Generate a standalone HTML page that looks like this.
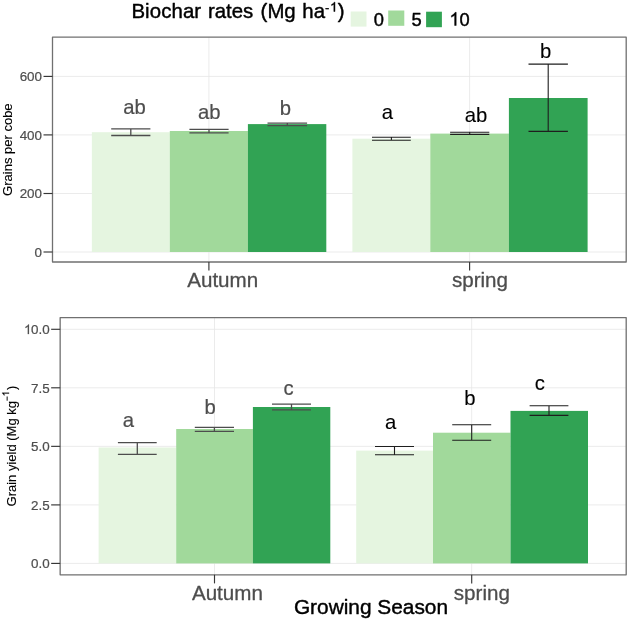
<!DOCTYPE html>
<html><head><meta charset="utf-8"><title>Biochar rates</title>
<style>html,body{margin:0;padding:0;background:#fff;}svg{display:block;will-change:transform;}text{font-family:"Liberation Sans",sans-serif;paint-order:stroke;stroke-linejoin:round;}.k{stroke:#000;stroke-width:0.42px;}.g{stroke:#4d4d4d;stroke-width:0.3px;}.t{stroke:#4d4d4d;stroke-width:0.2px;}</style></head><body>
<svg width="628" height="621" viewBox="0 0 628 621">
<rect x="0" y="0" width="628" height="621" fill="#ffffff"/>
<line x1="52.5" x2="626.2" y1="76.4" y2="76.4" stroke="#e6e6e6" stroke-width="0.8"/>
<line x1="52.5" x2="626.2" y1="134.9" y2="134.9" stroke="#e6e6e6" stroke-width="0.8"/>
<line x1="52.5" x2="626.2" y1="193.5" y2="193.5" stroke="#e6e6e6" stroke-width="0.8"/>
<line x1="52.5" x2="626.2" y1="252.0" y2="252.0" stroke="#e6e6e6" stroke-width="0.8"/>
<line x1="208.9" x2="208.9" y1="37.2" y2="262.0" stroke="#e6e6e6" stroke-width="0.8"/>
<line x1="469.6" x2="469.6" y1="37.2" y2="262.0" stroke="#e6e6e6" stroke-width="0.8"/>
<rect x="91.85" y="132.2" width="77.95" height="119.80" fill="#e5f5e0"/>
<rect x="169.8" y="131.0" width="78.10" height="121.00" fill="#a1d99b"/>
<rect x="247.9" y="124.1" width="78.40" height="127.90" fill="#31a354"/>
<rect x="352.4" y="138.7" width="77.90" height="113.30" fill="#e5f5e0"/>
<rect x="430.3" y="133.6" width="78.60" height="118.40" fill="#a1d99b"/>
<rect x="508.9" y="98.0" width="78.70" height="154.00" fill="#31a354"/>
<path d="M111.20000000000002 128.9H150.4M111.20000000000002 135.5H150.4M130.8 128.9V135.5" stroke="#4d4d4d" stroke-width="1.3" fill="none"/>
<path d="M189.4 129.4H228.6M189.4 132.8H228.6M209.0 129.4V132.8" stroke="#4d4d4d" stroke-width="1.3" fill="none"/>
<path d="M267.5 123.1H307.1M267.5 125.6H307.1M287.3 123.1V125.6" stroke="#4d4d4d" stroke-width="1.3" fill="none"/>
<path d="M372.0 137.2H410.79999999999995M372.0 140.2H410.79999999999995M391.4 137.2V140.2" stroke="#1e1e1e" stroke-width="1.1" fill="none"/>
<path d="M450.09999999999997 132.2H489.3M450.09999999999997 134.4H489.3M469.7 132.2V134.4" stroke="#1e1e1e" stroke-width="1.1" fill="none"/>
<path d="M528.5 64.1H567.9000000000001M528.5 131.4H567.9000000000001M548.2 64.1V131.4" stroke="#1e1e1e" stroke-width="1.1" fill="none"/>
<rect x="52.5" y="37.2" width="573.70" height="224.80" fill="none" stroke="#707070" stroke-width="1.3" stroke-linejoin="round"/>
<line x1="43.5" x2="52.5" y1="76.4" y2="76.4" stroke="#363636" stroke-width="1.15"/>
<text class="t" x="42.0" y="81.2" font-size="13.4" fill="#4d4d4d" text-anchor="end">600</text>
<line x1="43.5" x2="52.5" y1="134.9" y2="134.9" stroke="#363636" stroke-width="1.15"/>
<text class="t" x="42.0" y="139.70000000000002" font-size="13.4" fill="#4d4d4d" text-anchor="end">400</text>
<line x1="43.5" x2="52.5" y1="193.5" y2="193.5" stroke="#363636" stroke-width="1.15"/>
<text class="t" x="42.0" y="198.3" font-size="13.4" fill="#4d4d4d" text-anchor="end">200</text>
<line x1="43.5" x2="52.5" y1="252.0" y2="252.0" stroke="#363636" stroke-width="1.15"/>
<text class="t" x="42.0" y="256.8" font-size="13.4" fill="#4d4d4d" text-anchor="end">0</text>
<line x1="208.9" x2="208.9" y1="262.0" y2="270.6" stroke="#363636" stroke-width="1.15"/>
<line x1="469.6" x2="469.6" y1="262.0" y2="270.6" stroke="#363636" stroke-width="1.15"/>
<text class="g" x="187.2" y="286.8" font-size="20.6" fill="#4d4d4d">Autumn</text>
<text class="g" x="451.9" y="286.9" font-size="20.6" fill="#4d4d4d">spring</text>
<text class="g" style="stroke-width:0.2px" x="123.2" y="114.1" font-size="20.3" fill="#4d4d4d">ab</text>
<text class="g" style="stroke-width:0.2px" x="198.0" y="118.9" font-size="20.3" fill="#4d4d4d">ab</text>
<text class="g" style="stroke-width:0.2px" x="279.7" y="114.8" font-size="20.3" fill="#4d4d4d">b</text>
<text class="k" style="stroke-width:0.12px" x="381.8" y="118.9" font-size="20.3" fill="#000">a</text>
<text class="k" style="stroke-width:0.12px" x="464.8" y="121.6" font-size="20.3" fill="#000">ab</text>
<text class="k" style="stroke-width:0.12px" x="540.1" y="57.8" font-size="20.3" fill="#000">b</text>
<line x1="60.15" x2="626.2" y1="329.3" y2="329.3" stroke="#e6e6e6" stroke-width="0.8"/>
<line x1="60.15" x2="626.2" y1="387.8" y2="387.8" stroke="#e6e6e6" stroke-width="0.8"/>
<line x1="60.15" x2="626.2" y1="446.35" y2="446.35" stroke="#e6e6e6" stroke-width="0.8"/>
<line x1="60.15" x2="626.2" y1="504.9" y2="504.9" stroke="#e6e6e6" stroke-width="0.8"/>
<line x1="60.15" x2="626.2" y1="563.4" y2="563.4" stroke="#e6e6e6" stroke-width="0.8"/>
<line x1="214.5" x2="214.5" y1="317.6" y2="574.8" stroke="#e6e6e6" stroke-width="0.8"/>
<line x1="471.7" x2="471.7" y1="317.6" y2="574.8" stroke="#e6e6e6" stroke-width="0.8"/>
<rect x="98.6" y="447.5" width="77.60" height="115.90" fill="#e5f5e0"/>
<rect x="176.2" y="429.0" width="76.70" height="134.40" fill="#a1d99b"/>
<rect x="252.9" y="407.0" width="77.40" height="156.40" fill="#31a354"/>
<rect x="356.2" y="450.6" width="76.80" height="112.80" fill="#e5f5e0"/>
<rect x="433.0" y="432.7" width="77.50" height="130.70" fill="#a1d99b"/>
<rect x="510.5" y="410.9" width="77.50" height="152.50" fill="#31a354"/>
<path d="M117.9 442.6H156.70000000000002M117.9 454.4H156.70000000000002M137.3 442.6V454.4" stroke="#4d4d4d" stroke-width="1.3" fill="none"/>
<path d="M194.8 427.4H234.0M194.8 431.4H234.0M214.4 427.4V431.4" stroke="#4d4d4d" stroke-width="1.3" fill="none"/>
<path d="M272.0 404.2H311.0M272.0 409.8H311.0M291.5 404.2V409.8" stroke="#4d4d4d" stroke-width="1.3" fill="none"/>
<path d="M375.0 446.5H414.0M375.0 454.7H414.0M394.5 446.5V454.7" stroke="#1e1e1e" stroke-width="1.1" fill="none"/>
<path d="M452.2 424.8H491.2M452.2 440.2H491.2M471.7 424.8V440.2" stroke="#1e1e1e" stroke-width="1.1" fill="none"/>
<path d="M529.6 405.8H568.4M529.6 415.4H568.4M549.0 405.8V415.4" stroke="#1e1e1e" stroke-width="1.1" fill="none"/>
<rect x="60.15" y="317.6" width="566.05" height="257.20" fill="none" stroke="#707070" stroke-width="1.3" stroke-linejoin="round"/>
<line x1="51.15" x2="60.15" y1="329.3" y2="329.3" stroke="#363636" stroke-width="1.15"/>
<text class="t" x="49.65" y="334.1" font-size="13.4" fill="#4d4d4d" text-anchor="end">0.0</text>
<path transform="translate(23.97 334.10) scale(0.006543 -0.006543)" d="M763 0H583V1147Q518 1085 412.5 1023Q307 961 223 930V1104Q374 1175 487 1276Q600 1377 647 1472H763Z" fill="#4d4d4d" stroke="#4d4d4d" stroke-width="30.6" stroke-linejoin="round"/>
<line x1="51.15" x2="60.15" y1="387.8" y2="387.8" stroke="#363636" stroke-width="1.15"/>
<text class="t" x="49.65" y="392.6" font-size="13.4" fill="#4d4d4d" text-anchor="end">7.5</text>
<line x1="51.15" x2="60.15" y1="446.35" y2="446.35" stroke="#363636" stroke-width="1.15"/>
<text class="t" x="49.65" y="451.15000000000003" font-size="13.4" fill="#4d4d4d" text-anchor="end">5.0</text>
<line x1="51.15" x2="60.15" y1="504.9" y2="504.9" stroke="#363636" stroke-width="1.15"/>
<text class="t" x="49.65" y="509.7" font-size="13.4" fill="#4d4d4d" text-anchor="end">2.5</text>
<line x1="51.15" x2="60.15" y1="563.4" y2="563.4" stroke="#363636" stroke-width="1.15"/>
<text class="t" x="49.65" y="568.1999999999999" font-size="13.4" fill="#4d4d4d" text-anchor="end">0.0</text>
<line x1="214.5" x2="214.5" y1="574.8" y2="583.4" stroke="#363636" stroke-width="1.15"/>
<line x1="471.7" x2="471.7" y1="574.8" y2="583.4" stroke="#363636" stroke-width="1.15"/>
<text class="g" x="191.9" y="599.9" font-size="20.6" fill="#4d4d4d">Autumn</text>
<text class="g" x="453.8" y="600.2" font-size="20.6" fill="#4d4d4d">spring</text>
<text class="g" style="stroke-width:0.2px" x="122.7" y="426.7" font-size="20.3" fill="#4d4d4d">a</text>
<text class="g" style="stroke-width:0.2px" x="204.4" y="414.0" font-size="20.3" fill="#4d4d4d">b</text>
<text class="g" style="stroke-width:0.2px" x="283.6" y="394.6" font-size="20.3" fill="#4d4d4d">c</text>
<text class="k" style="stroke-width:0.12px" x="385.1" y="429.1" font-size="20.3" fill="#000">a</text>
<text class="k" style="stroke-width:0.12px" x="464.3" y="404.6" font-size="20.3" fill="#000">b</text>
<text class="k" style="stroke-width:0.12px" x="534.8" y="389.6" font-size="20.3" fill="#000">c</text>
<text x="131.4" y="17.6" class="k" font-size="20.4" fill="#000" letter-spacing="0.1">Biochar</text>
<text x="207.9" y="17.6" class="k" font-size="20.4" fill="#000">rates</text>
<text x="260.6" y="17.6" class="k" font-size="20.4" fill="#000">(Mg</text>
<text x="302.3" y="17.6" class="k" font-size="20.4" fill="#000">ha</text>
<text x="337.7" y="17.6" class="k" font-size="20.4" fill="#000">)</text>
<text x="325.0" y="11.5" font-size="13" fill="#000" stroke="#000" stroke-width="0.3">-</text>
<path transform="translate(330.13 11.50) scale(0.006348 -0.006348)" d="M763 0H583V1147Q518 1085 412.5 1023Q307 961 223 930V1104Q374 1175 487 1276Q600 1377 647 1472H763Z" fill="#000" stroke="#000" stroke-width="70.9" stroke-linejoin="round"/>
<rect x="350.7" y="11.5" width="15.8" height="15.1" fill="#e5f5e0"/>
<rect x="388.2" y="10.5" width="16.1" height="15.3" fill="#a1d99b"/>
<rect x="426.1" y="11.7" width="15.8" height="15.5" fill="#31a354"/>
<text class="k" x="373.7" y="25.5" font-size="18.3" fill="#000">0</text>
<text class="k" x="411.6" y="25.5" font-size="18.3" fill="#000">5</text>
<path transform="translate(449.40 25.50) scale(0.008936 -0.008936)" d="M763 0H583V1147Q518 1085 412.5 1023Q307 961 223 930V1104Q374 1175 487 1276Q600 1377 647 1472H763Z" fill="#000" stroke="#000" stroke-width="47.0" stroke-linejoin="round"/>
<text class="k" x="459.57" y="25.5" font-size="18.3" fill="#000">0</text>
<text class="k" style="stroke-width:0.12px" transform="translate(12.4 149.65) rotate(-90)" font-size="13" fill="#000" text-anchor="middle">Grains per cobe</text>
<g transform="translate(16.3 446.1) rotate(-90)">
<text class="k" style="stroke-width:0.12px" x="-60.37" y="0" font-size="13.0" fill="#000">Grain yield (Mg kg</text>
<line x1="45.4" x2="49.6" y1="-9.15" y2="-9.15" stroke="#000" stroke-width="0.95"/>
<path transform="translate(49.80 -7.25) scale(0.004687 -0.004687)" d="M763 0H583V1147Q518 1085 412.5 1023Q307 961 223 930V1104Q374 1175 487 1276Q600 1377 647 1472H763Z" fill="#000" stroke="#000" stroke-width="53.3" stroke-linejoin="round"/>
<text class="k" style="stroke-width:0.12px" x="56.04" y="0" font-size="13.0" fill="#000">)</text>
</g>
<text class="k" x="293.9" y="614.0" font-size="20.85" fill="#000">Growing Season</text>
</svg></body></html>
